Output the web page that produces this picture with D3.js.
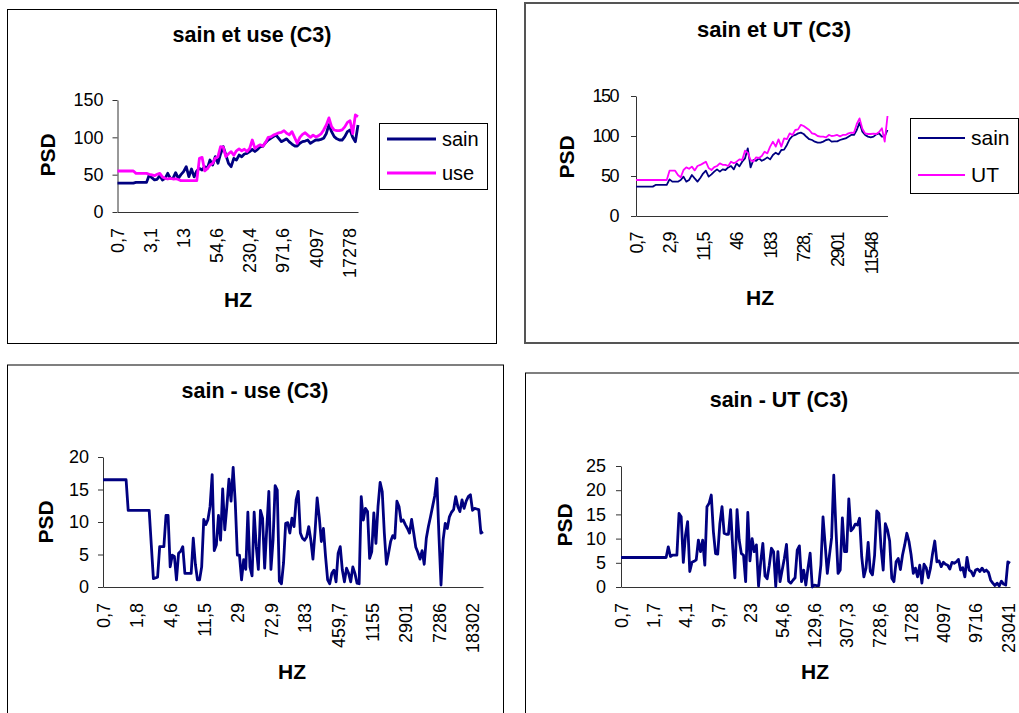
<!DOCTYPE html>
<html><head><meta charset="utf-8">
<script src="https://cdn.jsdelivr.net/npm/d3@7"></script>
<style>
body{margin:0;background:#fff;}
svg{display:block;font-family:"Liberation Sans",Arial,sans-serif;}
</style></head><body>
<svg id="c" width="1019" height="713"></svg>
<script>
// ---------- DATA ----------
const hz1Labels = ["0,7","3,1","13","54,6","230,4","971,6","4097","17278"];
const psd1Sain = [38.8,38.8,38.8,38.8,38.8,38.8,38.8,39.7,39.7,39.7,39.7,39.7,
 49.6,46,42.9,43.8,48.7,42.9,45,51.8,45,45,
 52.7,45,50,54,60.7,47.3,57.6,47,55,58.5,
 56.3,60.7,58.5,69.6,62.9,74.1,65.2,77.7,87.5,76.3,
 65.2,60.7,71.9,69.6,76.3,74,77.7,78.6,80.8,83.9,
 81,83.9,87.5,88,92.9,96.4,98.7,100.9,103.1,98.7,
 94.2,96,98,94,91,88.4,88.4,92,94.2,95,
 96.4,92,94.2,96.4,96.4,97.3,98.7,105,117,107.6,
 100.9,98,96.4,96.4,100.9,107.6,109.8,100,94.2,116.5];
const psd1Use = [54.9,54.9,54.9,54.9,54.9,54.9,54.9,51.8,51.8,51.8,51.8,51.8,
 50.5,49.6,48.7,50.5,51.8,47,45.1,44.2,45,44.2,
 44.5,43.5,42,42,42,42,42,42,42,71.9,
 73.2,55,58,63,65.2,72,74.1,87.5,87,74.1,
 78,80.8,76,82,84.5,82,84,81,85,96.4,
 85.3,88,90,88,93,100,100.5,103,104.5,106,
 106.5,109,105.4,103.5,107.6,100,92,100,104,106.2,
 103,100,103,100.5,102,104.5,109.8,116.5,126,114.3,
 109.8,108.9,108.9,110,114,120,122.3,105,129.9,127.7];

const hz2Labels = ["0,7","2,9","11,5","46","183","728,","2901","11548"];
const psd2Sain = [36.7,36.7,36.7,36.7,36.7,36.7,36.7,38.8,38.8,38.8,38.8,38.8,
 45.8,42.9,42.9,42.9,45,49.2,43,45,51.3,47,
 43,47.5,53,56.7,49.2,52,55.4,58.3,55.5,58.3,
 57.5,60.8,62.5,58.3,65.8,62,67.9,72,84.6,60.8,
 70,69,72,69,70.8,73.3,70.8,76.3,79.2,77,
 82.5,83,88.8,96,100,101.3,103.3,104.2,102.5,99,
 96,95,92.9,91.7,91.7,93,95,95.8,92.9,93.3,
 93.3,95,96,97,99.2,101.3,101.3,107.5,116.7,105.4,
 101.3,99.2,98.3,99.2,102,103.3,99.2,99.6,107.5];
const psd2UT = [45,45,45,45,45,45,45,45,45,45,45,45,
 56.7,56.7,56.7,51.3,48.3,57.5,60.8,59,61.7,57,
 62.5,63.8,65.8,67.9,60,57.5,61,62.5,65.8,64,
 63.8,62.5,67.9,66,67.9,70.8,70,81.7,79.2,70,
 68,73.3,72.5,75,80.4,78.3,86.7,92.9,86.7,95.8,
 86.7,97,96,103.3,101.3,107.5,108.3,114,112.5,110,
 107.5,103.3,102.5,100,99.2,99.2,98.3,101.3,100,100.5,
 101.3,99.5,101.3,101.3,103.3,104.2,104,115,122,109,
 103.3,102.5,102.5,103,102.5,105,109.6,93,125];

const hz3Labels = ["0,7","1,8","4,6","11,5","29","72,9","183","459,7","1155","2901","7286","18302"];
const diff3 = [16.5,16.5,16.5,16.5,16.5,16.5,16.5,16.5,16.5,16.5,16.5,16.5,
 11.8,11.8,11.8,11.8,11.8,11.8,11.8,11.8,11.8,11.8,11.8,
 6.5,1.3,1.4,1.5,6.2,6.2,6.2,11,11,3.1,4.9,4.7,1.1,5.2,5.5,6.2,2.1,2.1,2.1,2.1,7.5,3.5,1.1,1.1,3.1,
 10.4,9.6,10.4,12.4,17.3,5.6,6.5,11,7.2,15.1,8.8,12.4,16.6,13.2,18.4,13,4.9,4.9,1.1,4.2,2.7,11.5,
 3.1,1.7,11.5,6.2,2.7,11.8,10.6,2.9,9,14.7,2.7,7.2,15.6,14.9,0.9,0.5,3.7,9.8,9.9,8.3,
 10.6,9.3,13.4,14.7,8.3,7.5,7.2,7.7,9.3,7.2,4.3,8.5,13.7,10.8,7,9,4.7,1.1,0.5,2.1,
 2.6,0.8,5.2,6.2,2.6,0.8,2.9,2.1,0.8,3.1,2.1,0.6,0.5,13.9,10.3,12.1,11.6,4.4,5.4,11.4,
 6.7,12.4,16.1,14.7,8.3,3.5,5.2,7,7.9,7.5,13.2,12.4,10.1,10.3,9.6,9,8.3,10.4,8.3,6.1,
 5.3,4.3,5.6,3.5,7.5,9.3,10.8,12.4,14,16.7,8,0.3,7.2,9.8,9,10.8,11.5,11.9,13.9,12.4,
 11.6,13.4,12.1,13.2,13.9,14.2,11.8,12.1,12,11.9,8.3,8.5];

const hz4Labels = ["0,7","1,7","4,1","9,7","23","54,6","129,6","307,3","728,6","1728","4097","9716","23041"];
const diff4 = [6.1,6.1,6.1,6.1,6.1,6.1,6.1,6.1,6.1,6.1,6.1,6.1,6.1,6.1,6.1,6.1,6.1,6.1,6.1,6.1,6.1,6.1,
 8.3,6.3,6.6,6.6,6.6,15.2,14.5,5.1,10.7,13.5,3.2,5.1,5.3,5.6,9.7,7.3,9.7,4.5,
 16.6,17.3,19,11.4,6.9,6.8,13.1,16.6,11.1,10.9,10.9,16,8,1.9,16,9.7,6.9,6.6,1.1,15.4,
 5.4,10,7.3,8.7,0.2,5.2,9,2.3,1.7,4.5,8,7.3,0.1,7.3,1.1,3.5,5.9,8.8,1.2,0.8,
 1.4,1.9,7.6,8.5,1.1,3.5,0.4,3.9,7,0,0.4,0.3,0.3,4.5,14.5,8.7,2.8,6.6,10.2,23.1,
 12.1,2.8,3.5,14.3,7.3,7.3,18.2,11.6,12.1,13,12.8,14.2,6.3,2.1,3.9,9.2,3.2,2.5,6.6,15.7,
 15.2,8.1,3.5,13.1,11.8,9.5,1.8,1.1,5.2,5.9,3.6,6.6,8.7,11.1,9.4,6.6,2.8,3.9,2.1,4.5,
 0.8,4.7,4,1.9,3.9,7,9.5,5.2,5.4,4.2,5.1,4.7,4.5,3.7,5.1,4.9,5.2,5.7,3.5,4,
 2.1,6.1,3.5,3.2,2.3,3.5,3.7,3.2,3.9,3.2,3.5,3,1.4,0.8,0.3,0.8,0.2,1.2,0.6,0.4,
 5.2,4.9];

const NAVY = "#000080", MAGENTA = "#ff00ff";

// ---------- DRAW ----------
const svg = d3.select("#c");

function panel(o) {
  const g = svg.append("g");
  g.append("rect").attr("x", o.frame[0]).attr("y", o.frame[1])
    .attr("width", o.frame[2]).attr("height", o.frame[3])
    .attr("fill", "#fff").attr("stroke", o.frameColor || "#000")
    .attr("stroke-width", o.frameWidth || 1);

  g.append("text").attr("x", o.titleX).attr("y", o.titleY)
    .attr("text-anchor", "middle").attr("font-weight", "bold")
    .attr("font-size", o.titleSize).text(o.title);

  const n = o.series[0].values.length;
  const x = d3.scaleLinear().domain([0, n - 1]).range([o.x0, o.x1]);
  const y = d3.scaleLinear().domain([0, o.yMax]).range([o.yBottom, o.yTop]);

  const ya = g.append("g").attr("transform", `translate(${o.x0},0)`)
    .call(d3.axisLeft(y).tickValues(o.yTicks).tickSize(5).tickSizeOuter(0).tickPadding(o.yPad));
  ya.selectAll("text").attr("font-size", o.tickSize).attr("fill", "#000")
    .style("letter-spacing", o.tickSpacing || "0px").attr("font-family", null);
  ya.selectAll("path,line").attr("stroke", "#333");

  const tickIdx = o.xLabels.map((d, i) => i * o.labelStep);
  const xa = g.append("g").attr("transform", `translate(0,${o.yBottom})`)
    .call(d3.axisBottom(x).tickValues(tickIdx)
      .tickFormat((d, i) => o.xLabels[i]).tickSize(0).tickSizeOuter(0));
  xa.selectAll("text").attr("font-size", o.tickSize).attr("fill", "#000")
    .attr("font-family", null)
    .style("letter-spacing", o.tickSpacing || "0px")
    .attr("transform", "rotate(-90)").attr("text-anchor", "end")
    .attr("x", -o.xLabelGap).attr("y", 0).attr("dy", "0.35em");
  xa.selectAll("path").attr("stroke", "#333");
  ya.attr("font-family", null); xa.attr("font-family", null);
  ya.attr("font-size", null); xa.attr("font-size", null);

  const line = d3.line().x((d, i) => x(i)).y(d => y(d));
  o.series.forEach(s => {
    g.append("path").datum(s.values).attr("d", line)
      .attr("fill", "none").attr("stroke", s.color)
      .attr("stroke-width", o.lineWidth).attr("stroke-linejoin", "round");
  });

  g.append("text").attr("transform", `translate(${o.psdX},${o.psdY}) rotate(-90)`)
    .attr("text-anchor", "middle").attr("dy", "0.35em")
    .attr("font-weight", "bold").attr("font-size", o.axisTitleSize).text("PSD");
  g.append("text").attr("x", o.hzX).attr("y", o.hzY)
    .attr("text-anchor", "middle").attr("font-weight", "bold")
    .attr("font-size", o.axisTitleSize).text("HZ");

  if (o.legend) {
    const L = o.legend;
    g.append("rect").attr("x", L.box[0]).attr("y", L.box[1])
      .attr("width", L.box[2]).attr("height", L.box[3])
      .attr("fill", "#fff").attr("stroke", "#000").attr("stroke-width", 1);
    o.series.forEach((s, i) => {
      const ly = L.rows[i];
      g.append("line").attr("x1", L.lx1).attr("x2", L.lx2).attr("y1", ly).attr("y2", ly)
        .attr("stroke", s.color).attr("stroke-width", o.lineWidth);
      g.append("text").attr("x", L.tx).attr("y", ly).attr("dy", "0.35em")
        .attr("font-size", L.size).text(s.name);
    });
  }
}

panel({
  frame: [7.5, 9.5, 489, 334], title: "sain et use (C3)", titleX: 252, titleY: 42, titleSize: 21.5,
  x0: 117.5, x1: 358, yBottom: 212, yTop: 100, yMax: 150, yTicks: [0, 50, 100, 150], yPad: 9,
  xLabels: hz1Labels, labelStep: 12.5, xLabelGap: 16, tickSize: 18,
  series: [{name: "sain", values: psd1Sain, color: NAVY}, {name: "use", values: psd1Use, color: MAGENTA}],
  lineWidth: 2.8, psdX: 48, psdY: 155, hzX: 238, hzY: 306.5, axisTitleSize: 21,
  legend: {box: [379.5, 123.5, 108, 66], lx1: 387, lx2: 436, rows: [139, 173], tx: 442, size: 20}
});

panel({
  frame: [525, 3, 520, 340], frameColor: "#555", frameWidth: 2,
  title: "sain et UT (C3)", titleX: 774, titleY: 36.5, titleSize: 22,
  x0: 636, x1: 887.5, yBottom: 216, yTop: 96, yMax: 150, yTicks: [0, 50, 100, 150], yPad: 13,
  xLabels: hz2Labels, labelStep: 12, xLabelGap: 17, tickSize: 18, tickSpacing: "-1.5px",
  series: [{name: "sain", values: psd2Sain, color: NAVY}, {name: "UT", values: psd2UT, color: MAGENTA}],
  lineWidth: 1.8, psdX: 567, psdY: 157, hzX: 760, hzY: 305, axisTitleSize: 21,
  legend: {box: [910.5, 118.5, 108, 75], lx1: 918, lx2: 965, rows: [138, 175], tx: 971, size: 21}
});

panel({
  frame: [7.5, 365, 496, 400], title: "sain - use (C3)", titleX: 255, titleY: 398, titleSize: 21.5,
  x0: 103, x1: 483, yBottom: 587, yTop: 457, yMax: 20, yTicks: [0, 5, 10, 15, 20], yPad: 9,
  xLabels: hz3Labels, labelStep: 16, xLabelGap: 16, tickSize: 18,
  series: [{name: "sain - use", values: diff3, color: NAVY}],
  lineWidth: 2.8, psdX: 46, psdY: 522, hzX: 292, hzY: 679, axisTitleSize: 21
});

panel({
  frame: [525.5, 373, 520, 400], title: "sain - UT (C3)", titleX: 779, titleY: 407, titleSize: 21.5,
  x0: 621, x1: 1010, yBottom: 587, yTop: 466, yMax: 25, yTicks: [0, 5, 10, 15, 20, 25], yPad: 10,
  xLabels: hz4Labels, labelStep: 15, xLabelGap: 16, tickSize: 18,
  series: [{name: "sain - UT", values: diff4, color: NAVY}],
  lineWidth: 2.8, psdX: 565, psdY: 525, hzX: 815, hzY: 679, axisTitleSize: 21
});
</script>
</body></html>
